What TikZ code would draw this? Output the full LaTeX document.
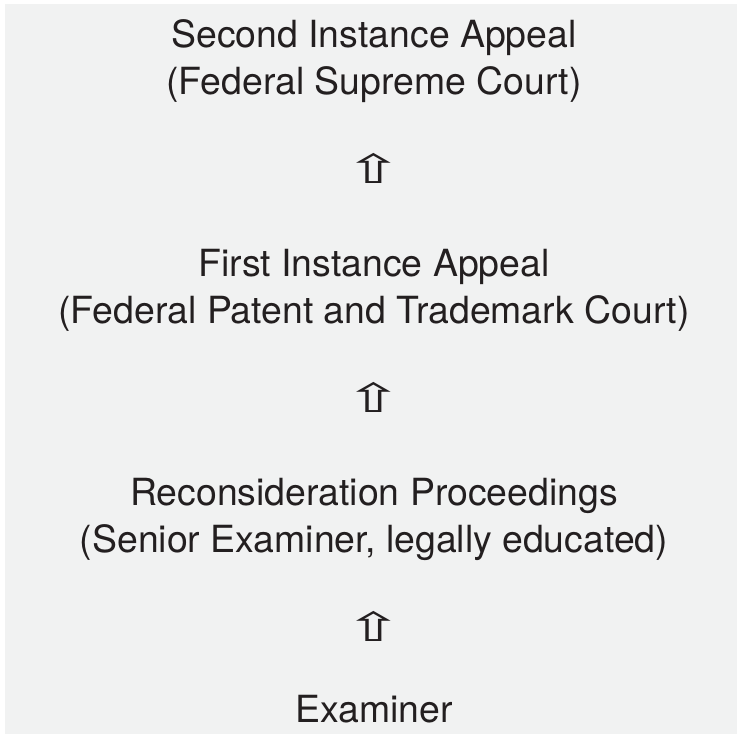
\documentclass[tikz,border=0pt]{standalone}
\usepackage{fontspec}
\setmainfont{TeX Gyre Heros}
\newfontfamily\arrowfont{DejaVu Sans}
\usepackage{tikz}
\usetikzlibrary{positioning}
\definecolor{bggray}{HTML}{F1F2F2}
\definecolor{textgray}{HTML}{231F20}
\tikzstyle{level} = [align=center, font=\fontsize{37.4}{47}\selectfont, text=textgray, inner sep=0pt]
\tikzstyle{uparrow} = [font=\arrowfont\fontsize{40}{40}\selectfont, text=textgray, inner sep=0pt]

\begin{document}
\begin{tikzpicture}[x=1pt, y=1pt, node distance=229pt]
		\useasboundingbox (0,0) rectangle (738,-734);
		\fill [bggray] (5,-4) rectangle (737,-734);
		
		\node (Second) [level] at (374,-61) {Second Instance Appeal\\(Federal Supreme Court)};
		\node (First) [level, below of=Second] {First Instance Appeal\\(Federal Patent and Trademark Court)};
		\node (Recon) [level, below of=First] {Reconsideration Proceedings\\(Senior Examiner, legally educated)};
		\node (Examiner) [level, below of=Recon, node distance=190pt] {Examiner};
		
		\node (up1) [uparrow, below of=Second, node distance=107pt] {\scalebox{1.75}[1]{⇧}};
		\node (up2) [uparrow, below of=First, node distance=107pt] {\scalebox{1.75}[1]{⇧}};
		\node (up3) [uparrow, below of=Recon, node distance=107pt] {\scalebox{1.75}[1]{⇧}};
	\end{tikzpicture}
\end{document}
